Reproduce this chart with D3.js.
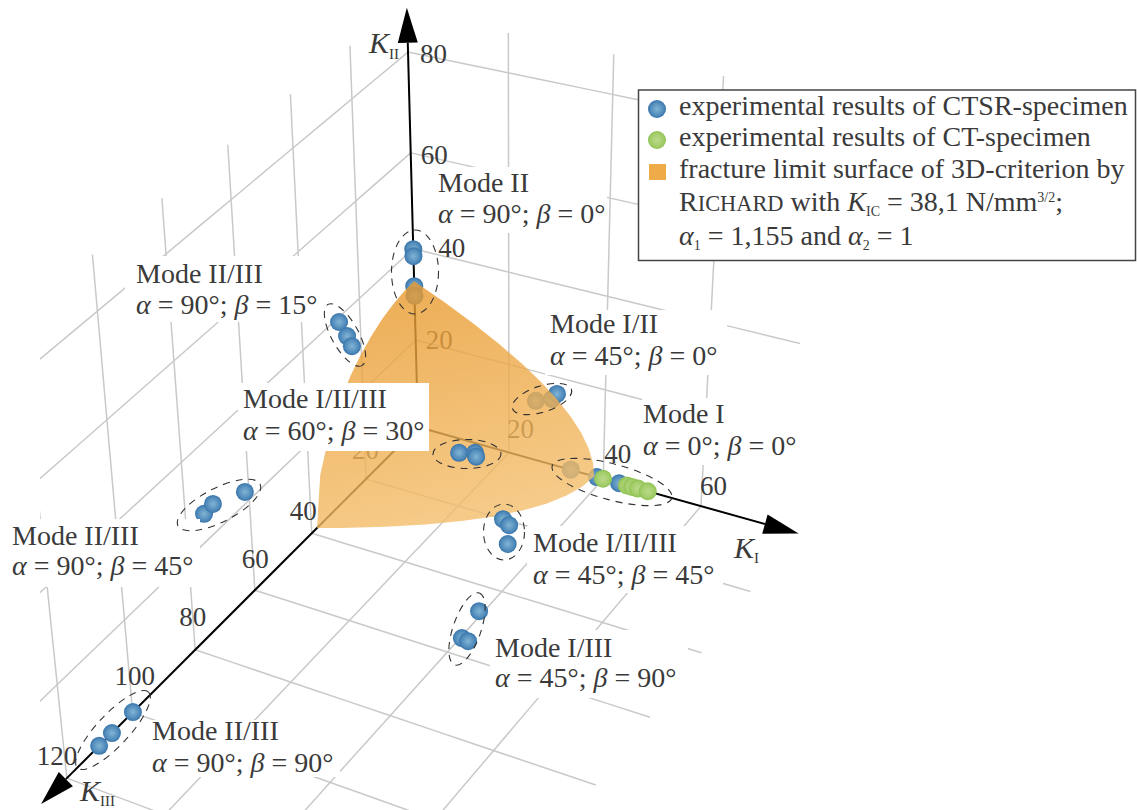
<!DOCTYPE html>
<html><head><meta charset="utf-8">
<script src="https://cdn.jsdelivr.net/npm/d3@7/dist/d3.min.js"></script>
<style>html,body{margin:0;padding:0;background:#fff}svg{display:block}text{font-family:"Liberation Serif",serif;fill:#3a3a3a}</style>
</head><body><svg id="c" width="1137" height="810"></svg>
<script>
// ---- data (K_I, K_II, K_III in N/mm^3/2) ----
const ticksKI=[20,40,60];
const ticksKII=[20,40,60,80];
const ticksKIII=[20,40,60,80,100,120];
const surfaceEdgeI_II=[[0,33],[6.6,30],[12.6,27],[17.9,24],[22.66,21],[26.76,18],[30.2,15],[33.06,12],[35.26,9],[36.84,6],[37.8,3],[38.1,0]];
const surfaceEdgeI_III=[[38.1,0],[37.68,4],[36.42,8],[34.32,12],[31.38,16],[27.6,20],[22.98,24],[17.52,28],[11.22,32],[4.08,36],[0,38.1]];
const surfaceEdgeII_III=[[0,38.1],[10.8,36],[17.9,32],[22.37,28],[25.62,24],[28.08,20],[29.94,16],[31.31,12],[32.25,8],[32.8,4],[33,0]];
const ctsrBehind=[[0,31.9,0],[0,29.8,0],[25.7,13.5,0],[29.1,14.9,0],[30.1,16.3,0],[33.2,0,0],[38.7,0,0]];
const ctsrFront=[[0,39.9,0],[0,38.4,0],[0,39,27],[0,34.6,24.5],[0,31.6,23],[0,25.9,73.7],[0,26.2,70.8],[0,22.5,60.8],
 [25,18.6,28.2],[27,17.8,25.9],[27,16.7,25.5],[43.3,0,0],[37.7,12.3,35.2],[40,13,37.2],[44.5,16.1,46.1],
 [39.2,0,47],[40.3,0,55.3],[41.7,0,55.6],[0,0,99.9],[0,0,106.4],[0,0,110.3]];
const ctFront=[[39.96,0,0],[44.9,0,0],[46,0,0],[47.2,0,0],[49.2,0,0]];
const modeLabels=[
 {name:"Mode II",a:"90",b:"0"},{name:"Mode II/III",a:"90",b:"15"},{name:"Mode I/II/III",a:"60",b:"30"},
 {name:"Mode I/II",a:"45",b:"0"},{name:"Mode I",a:"0",b:"0"},{name:"Mode I/II/III",a:"45",b:"45"},
 {name:"Mode I/III",a:"45",b:"90"},{name:"Mode II/III",a:"90",b:"90"},{name:"Mode II/III",a:"90",b:"45"}];

// ---- layout ----
const labelLayout=[
 {x:438,y1:192,y2:223,box:[435,167,172,66]},
 {x:136,y1:283,y2:314,box:[125,256,195,66]},
 {x:243,y1:408,y2:440,box:[238,383,191,68],solid:true},
 {x:550,y1:333,y2:365,box:[545,310,182,65]},
 {x:643,y1:423,y2:455,box:[642,398,160,67]},
 {x:533,y1:552,y2:584,box:[527,526,196,67]},
 {x:495,y1:657,y2:687,box:[490,630,198,68]},
 {x:152,y1:740,y2:772,box:[147,720,193,57]},
 {x:12,y1:545,y2:575,box:[5,519,195,68]}];
const ellipses=[[415,272,23.5,42,0],[345,335,35,13.5,61],[542,399,31,13,-18],[467,454,34,14.5,0],[612,482,62,18,15],
 [504,532,20.5,28,0],[467,629,38,14,-71],[219,505,46,17,-27],[113,730,52,16,-47]];

// ---- perspective built from one d3 scale per axis ----
const O=[418,427];
const xI=d3.scaleLinear([0,100],[0,447]), yI=d3.scaleLinear([0,100],[0,125]), wI=d3.scaleLinear([0,100],[0,-.087]);
const xII=d3.scaleLinear([0,100],[0,-11.3]), yII=d3.scaleLinear([0,100],[0,-424.8]), wII=d3.scaleLinear([0,100],[0,-.117]);
const xIII=d3.scaleLinear([0,100],[0,-254]), yIII=d3.scaleLinear([0,100],[0,254]), wIII=d3.scaleLinear([0,100],[0,-.11]);
function P(k1,k2,k3){const d=1+wI(k1)+wII(k2)+wIII(k3);
 return [O[0]+(xI(k1)+xII(k2)+xIII(k3))/d, O[1]+(yI(k1)+yII(k2)+yIII(k3))/d];}

const svg=d3.select("#c"), defs=svg.append("defs");
function sphere(id,c0,c1,c2){const g=defs.append("radialGradient").attr("id",id).attr("cx","50%").attr("cy","50%").attr("r","52%");
 g.append("stop").attr("offset","0%").attr("stop-color",c0);g.append("stop").attr("offset","70%").attr("stop-color",c1);g.append("stop").attr("offset","100%").attr("stop-color",c2);}
sphere("sb","#82b4d4","#508bbb","#3370a8");sphere("sg","#bcd98c","#a2cd68","#8bc04f");
const sg=defs.append("linearGradient").attr("id","surf").attr("gradientUnits","userSpaceOnUse").attr("x1",415).attr("y1",280).attr("x2",470).attr("y2",525);
sg.append("stop").attr("offset","0").attr("stop-color","#E8992C").attr("stop-opacity",.8);
sg.append("stop").attr("offset","1").attr("stop-color","#F4BF6D").attr("stop-opacity",.8);
defs.append("clipPath").attr("id","gc").append("rect").attr("x",40).attr("y",0).attr("width",760).attr("height",810);

// grid
const line=d3.line();
const grid=svg.append("g").attr("clip-path","url(#gc)").attr("fill","none").attr("stroke","#c9c9c9").attr("stroke-width",1.5);
function seg(a,b){grid.append("path").attr("d",line(d3.range(0,1.001,.1).map(t=>P(a[0]+(b[0]-a[0])*t,a[1]+(b[1]-a[1])*t,a[2]+(b[2]-a[2])*t))));}
const maxI=79,maxIIback=87.5,maxIIside=90,maxIII=135,sideLean=.97;
ticksKII.forEach(v=>{seg([0,v,0],[maxI+10,v,0]);seg([0,v,0],[0,v,maxIII]);});
ticksKI.forEach(v=>{seg([v,0,0],[v,maxIIback,0]);seg([v,0,0],[v,0,maxIII]);});
ticksKIII.forEach(v=>{seg([0,0,v],[0,maxIIside,v*sideLean]);seg([0,0,v],[maxI,0,v]);});

// axes
const axisEnd=[[72.7,0,0],[0,81.8,0],[0,0,120.3]];
axisEnd.forEach(e=>{const a=P(0,0,0),b=P(...e);
 svg.append("path").attr("d",line([a,b])).attr("stroke","#000").attr("stroke-width",2).attr("fill","none");
 const L=Math.hypot(b[0]-a[0],b[1]-a[1]),u=[(b[0]-a[0])/L,(b[1]-a[1])/L],n=[-u[1],u[0]];
 svg.append("path").attr("d",line([[b[0]+n[0]*10,b[1]+n[1]*10],[b[0]+u[0]*35,b[1]+u[1]*35],[b[0]-n[0]*10,b[1]-n[1]*10]])+"Z").attr("fill","#000");});

// tick labels
const FS=28;
function tick(v,p,dx,dy){svg.append("text").attr("x",p[0]+dx).attr("y",p[1]+dy).attr("font-size",27).text(v);}
const offI={20:[-2,-14],40:[1,-16],60:[-1,-11]};
ticksKI.forEach(v=>tick(v,P(v,0,0),...offI[v]));
const offII={20:[10,9],40:[25,8],60:[10,11],80:[12,11]};
ticksKII.forEach(v=>tick(v,P(0,v,0),...offII[v]));
const offIII={20:[-14,-20],40:[-22,-13],60:[-13,-22],80:[-16,-24],100:[-18,-27],120:[-30,-13]};
ticksKIII.forEach(v=>tick(v,P(0,0,v),...offIII[v]));

function spheres(d,id,r){svg.append("g").selectAll("circle").data(d).join("circle")
 .attr("cx",k=>P(...k)[0]).attr("cy",k=>P(...k)[1]).attr("r",r).attr("fill","url(#"+id+")");}
spheres(ctsrBehind,"sb",9);

// surface
const outline=[...surfaceEdgeI_II.map(k=>P(k[0],k[1],0)),...surfaceEdgeI_III.map(k=>P(k[0],0,k[1])),...surfaceEdgeII_III.map(k=>P(0,k[0],k[1]))];
svg.append("path").attr("d",line(outline)+"Z").attr("fill","url(#surf)");

spheres(ctsrFront,"sb",9);
spheres(ctFront,"sg",9);

// mode label boxes + text
modeLabels.forEach((m,i)=>{const l=labelLayout[i],b=l.box;
 svg.append("rect").attr("x",b[0]).attr("y",b[1]).attr("width",b[2]).attr("height",b[3]).attr("fill",l.solid?"#fff":"rgba(255,255,255,.97)");
});

// dashed ellipses
svg.append("g").selectAll("ellipse").data(ellipses).join("ellipse")
 .attr("cx",0).attr("cy",0).attr("rx",d=>d[2]).attr("ry",d=>d[3])
 .attr("transform",d=>`translate(${d[0]},${d[1]}) rotate(${d[4]})`)
 .attr("fill","none").attr("stroke","#333").attr("stroke-width",1.1).attr("stroke-dasharray","7 6");

const textLayer=svg.append("g");
modeLabels.forEach((m,i)=>{const l=labelLayout[i];
 textLayer.append("text").attr("x",l.x).attr("y",l.y1).attr("font-size",FS).text(m.name);
 const t=textLayer.append("text").attr("x",l.x).attr("y",l.y2).attr("font-size",FS);
 t.append("tspan").attr("font-style","italic").text("α");
 t.append("tspan").text(` = ${m.a}°; `);
 t.append("tspan").attr("font-style","italic").text("β");
 t.append("tspan").text(` = ${m.b}°`);
});

function rich(x,y,segs,size,ls,parent){const t=parent.append("text").attr("x",x).attr("y",y).attr("font-size",size).attr("letter-spacing",ls||0);
 let cur=0;segs.forEach(s=>{const sp=t.append("tspan").text(s.t);
  if(s.i)sp.attr("font-style","italic");
  let target=0,fs=size;
  if(s.sub){target=s.sub;fs=size*.5;} if(s.sup){target=-s.sup;fs=size*.5;} if(s.sc){fs=size*.8;}
  sp.attr("font-size",fs).attr("dy",target-cur);cur=target;});
 return t;}
// axis titles
rich(369,53,[{t:"K",i:1},{t:"II",sub:6}],30,0,textLayer);
rich(734,558,[{t:"K",i:1},{t:"I",sub:5}],30,0,textLayer);
rich(80,801,[{t:"K",i:1},{t:"III",sub:5}],30,0,textLayer);

// legend
const lg=svg.append("g");
lg.append("rect").attr("x",638.5).attr("y",90).attr("width",497).attr("height",170.5).attr("fill","#fff").attr("stroke","#444").attr("stroke-width",1.5);
lg.append("circle").attr("cx",657).attr("cy",109).attr("r",9).attr("fill","url(#sb)");
lg.append("circle").attr("cx",657).attr("cy",140).attr("r",9).attr("fill","url(#sg)");
lg.append("rect").attr("x",649).attr("y",164).attr("width",17).attr("height",16).attr("fill","#EFAB48");
const legendLines=[
 [115,[{t:"experimental results of CTSR-specimen"}]],
 [146,[{t:"experimental results of CT-specimen"}]],
 [178,[{t:"fracture limit surface of 3D-criterion by"}]],
 [211,[{t:"R"},{t:"ICHARD",sc:1},{t:" with "},{t:"K",i:1},{t:"IC",sub:5},{t:" = 38,1 N/mm"},{t:"3/2",sup:9},{t:";"}]],
 [245,[{t:"α",i:1},{t:"1",sub:5},{t:" = 1,155 and "},{t:"α",i:1},{t:"2",sub:5},{t:" = 1"}]]];
legendLines.forEach(([y,s])=>rich(679,y,s,28,0,lg));
</script></body></html>
